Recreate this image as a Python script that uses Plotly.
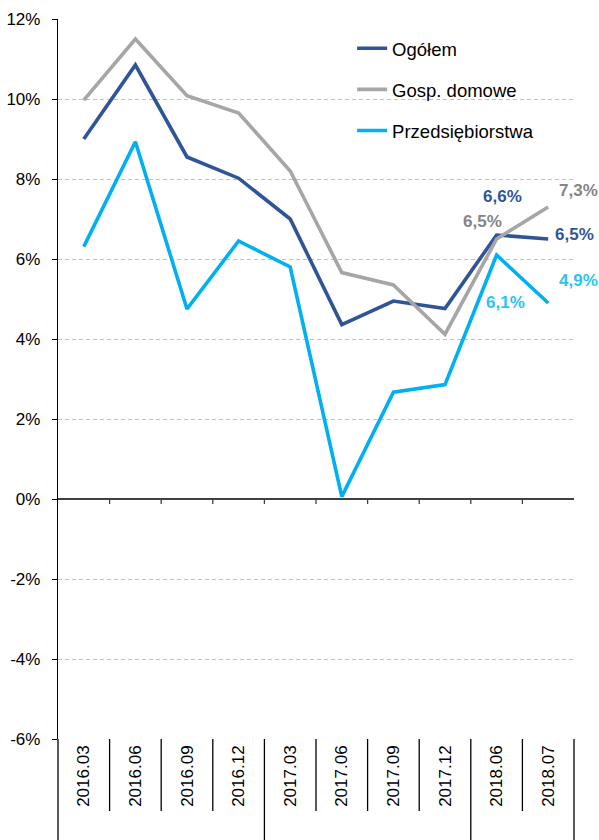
import plotly.graph_objects as go

categories = ["2016.03", "2016.06", "2016.09", "2016.12", "2017.03",
              "2017.06", "2017.09", "2017.12", "2018.06", "2018.07"]
ogolem = [9.0, 10.85, 8.55, 8.02, 7.0, 4.36, 4.95, 4.76, 6.6, 6.5]
gosp_domowe = [9.97, 11.5, 10.08, 9.65, 8.2, 5.66, 5.35, 4.12, 6.5, 7.3]
przedsiebiorstwa = [6.31, 8.93, 4.75, 6.45, 5.8, 0.06, 2.67, 2.86, 6.1, 4.9]
year_groups = [("2016", 4), ("2017", 4), ("2018", 2)]
y_ticks = [-6, -4, -2, 0, 2, 4, 6, 8, 10, 12]

FONT = "Liberation Sans, Arial, sans-serif"
C_DARK = "#2F5597"
C_GRAY = "#A6A6A6"
C_LIGHT = "#00B0F0"

fig = go.Figure()
series = [("Ogółem", ogolem, C_DARK), ("Gosp. domowe", gosp_domowe, C_GRAY),
          ("Przedsiębiorstwa", przedsiebiorstwa, C_LIGHT)]
for i, (name, vals, col) in enumerate(series):
    fig.add_trace(go.Scatter(x=categories, y=vals, name=name, mode="lines",
                             line=dict(color=col, width=3.6),
                             legendgroup=f"g{i}"))


def fmt(v):
    return f"{v:.1f}".replace(".", ",") + "%"


label_specs = [
    (ogolem, 8, C_DARK, 6, 39), (gosp_domowe, 8, "#858585", -14, 18),
    (przedsiebiorstwa, 8, "#2CC3F5", 9, -47),
    (ogolem, 9, C_DARK, 26, 5), (gosp_domowe, 9, "#858585", 30, 17),
    (przedsiebiorstwa, 9, "#2CC3F5", 30, 23),
]
annotations = []
for vals, idx, col, xs, ys in label_specs:
    annotations.append(dict(x=idx, y=vals[idx], xref="x", yref="y",
                            text="<b>" + fmt(vals[idx]) + "</b>",
                            showarrow=False, xshift=xs, yshift=ys,
                            font=dict(family=FONT, size=17, color=col)))

shapes = []
n = len(categories)
for k in range(n - 1):
    shapes.append(dict(type="line", xref="x", yref="y", x0=k + 0.5, x1=k + 0.5,
                       ysizemode="pixel", yanchor=0, y0=0, y1=-5,
                       line=dict(color="#404040", width=1.3)))
group_bounds = []
acc = 0
for _, cnt in year_groups:
    acc += cnt
    group_bounds.append(acc - 0.5)
for k in range(n - 1):
    b = k + 0.5
    long = b in group_bounds
    shapes.append(dict(type="line", xref="x", yref="paper", x0=b, x1=b,
                       y0=0, y1=-0.16 if long else -0.1,
                       line=dict(color="black", width=1.3)))
for xp in (0, 1):
    shapes.append(dict(type="line", xref="paper", yref="paper", x0=xp, x1=xp,
                       y0=0, y1=-0.16, line=dict(color="black", width=1.3)))

fig.update_layout(
    width=599, height=840,
    margin=dict(l=58, r=25, t=19, b=101, autoexpand=False),
    paper_bgcolor="white", plot_bgcolor="white",
    font=dict(family=FONT, size=17, color="black"),
    showlegend=True,
    annotations=annotations,
    shapes=shapes,
    legend=dict(x=0.570, y=0.985, xanchor="left", yanchor="top",
                bgcolor="rgba(0,0,0,0)", font=dict(family=FONT, size=18.5, color="black"),
                tracegroupgap=14, traceorder="grouped", itemwidth=30),
    xaxis=dict(type="category", range=[-0.5, n - 0.5], tickangle=-90,
               showgrid=False, ticks="", showline=False, zeroline=False,
               automargin=False,
               tickfont=dict(family=FONT, size=17, color="black"),
               ticklabelstandoff=2),
    yaxis=dict(range=[-6, 12], tickvals=y_ticks,
               ticktext=[f"{v}%" for v in y_ticks],
               showgrid=True, gridcolor="#C0C0C0", griddash="4px,3px", gridwidth=1,
               zeroline=True, zerolinecolor="#404040", zerolinewidth=1.5,
               showline=True, linecolor="black", linewidth=1.3,
               ticks="outside", ticklen=5, tickcolor="black",
               automargin=False,
               tickfont=dict(family=FONT, size=17, color="black"),
               ticklabelstandoff=8),
)

fig.write_html("out.html",
               config={"displayModeBar": False},
               post_script="document.body.style.margin='0';"
                           "document.body.style.overflow='hidden';")
